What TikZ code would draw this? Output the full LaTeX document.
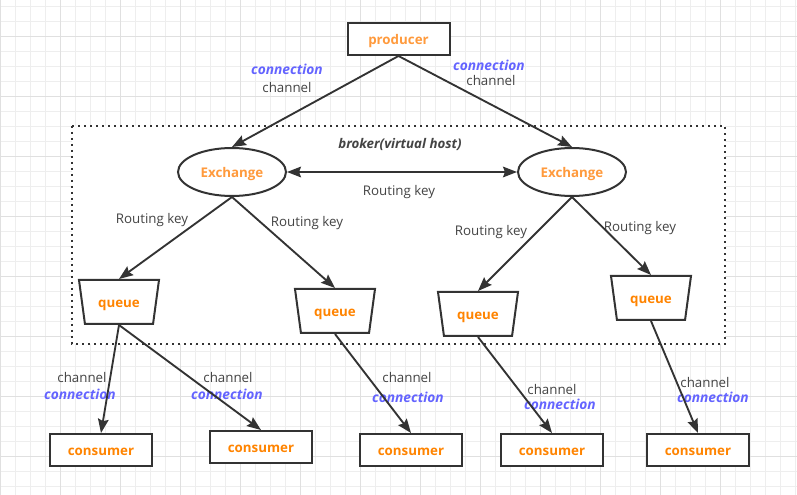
\documentclass[tikz,border=0pt]{standalone}
\usepackage{fontspec}
\setmainfont{Open Sans}
\usetikzlibrary{shapes.geometric,arrows.meta}
\definecolor{linegray}{HTML}{333333}
\definecolor{textgray}{HTML}{444444}
\definecolor{boxorange}{HTML}{FF9A3C}
\definecolor{deeporange}{HTML}{FF8400}
\definecolor{connblue}{HTML}{6464FF}
\definecolor{gridminor}{HTML}{EEEEEE}
\definecolor{gridmajor}{HTML}{E0E0E0}
\tikzset{
  plain/.style={font=\fontsize{10}{12}\selectfont, text=textgray, inner sep=1pt},
  connlabel/.style={font=\fontsize{10.3}{12}\selectfont\bfseries\itshape, text=connblue, inner sep=1pt},
  box/.style={rectangle, draw=linegray, line width=1.5pt, fill=white, minimum width=76.5pt, minimum height=24pt, text height=8.4pt, text depth=0pt, font=\fontsize{10}{12}\selectfont\bfseries, text=deeporange},
  exchange/.style={ellipse, draw=linegray, line width=1.5pt, fill=white, minimum width=81pt, minimum height=36pt, text height=8.4pt, text depth=0pt, font=\fontsize{10}{12}\selectfont\bfseries, text=boxorange},
  queuebox/.style={trapezium, trapezium left angle=73.5, trapezium right angle=73.5, trapezium stretches body, shape border rotate=180, draw=linegray, line width=1.5pt, fill=white, minimum width=60pt, minimum height=33pt, text height=8.4pt, text depth=0pt, font=\fontsize{10}{12}\selectfont\bfseries, text=deeporange},
  link/.style={draw=linegray, line width=1.4pt, -{Stealth[length=10.5pt,width=8pt,inset=1.5pt]}},
}
\begin{document}
\begin{tikzpicture}[x=0.75pt,y=-0.75pt]
\useasboundingbox (0,0) rectangle (797,495);
% background grid
\fill[white] (0,0) rectangle (797,495);
\foreach \gx in {0,...,53} \draw[gridminor, line width=0.75pt] (\gx*15+0.5,0) -- (\gx*15+0.5,495);
\foreach \gy in {0,...,32} \draw[gridminor, line width=0.75pt] (0,\gy*15+7) -- (797,\gy*15+7);
\foreach \gx in {0,...,12} \draw[gridmajor, line width=0.75pt] (\gx*60+0.5,0) -- (\gx*60+0.5,495);
\foreach \gy in {0,...,7} \draw[gridmajor, line width=0.75pt] (0,\gy*60+37) -- (797,\gy*60+37);
% broker area
\draw[fill=white, draw=linegray, line width=1.5pt, dash pattern=on 1.5pt off 3pt] (72,126) rectangle (725,344);
\node (broker) [plain, font=\fontsize{10}{12}\selectfont\bfseries\itshape] at (400,144) {broker(virtual host)};
% nodes
\node (prod) [box, text=boxorange] at (398.5,39) {producer};
\node (exL) [exchange] at (232,172) {Exchange};
\node (exR) [exchange] at (572,172) {Exchange};
\node (q1) [queuebox] at (119,302) {queue};
\node (q2) [queuebox] at (335,311) {queue};
\node (q3) [queuebox] at (478,314) {queue};
\node (q4) [queuebox] at (651,298) {queue};
\node (c1) [box] at (101,450) {consumer};
\node (c2) [box] at (261,447) {consumer};
\node (c3) [box] at (411,450) {consumer};
\node (c4) [box] at (552,450) {consumer};
\node (c5) [box] at (698,450) {consumer};
% labels
\node (conn1) [connlabel] at (287,69) {connection};
\node (chan1) [plain] at (287,88) {channel};
\node (conn2) [connlabel] at (489,65) {connection};
\node (chan2) [plain] at (491,81) {channel};
\node (rk0) [plain] at (399,192) {Routing key};
\node (rk1) [plain] at (152,220) {Routing key};
\node (rk2) [plain] at (307,223) {Routing key};
\node (rk3) [plain] at (491,232) {Routing key};
\node (rk4) [plain] at (640,228) {Routing key};
\node (chan3) [plain] at (82,378) {channel};
\node (conn3) [connlabel] at (80,394) {connection};
\node (chan4) [plain] at (228,378) {channel};
\node (conn4) [connlabel] at (227,394) {connection};
\node (chan5) [plain] at (407,378) {channel};
\node (conn5) [connlabel] at (408,397) {connection};
\node (chan6) [plain] at (552,390) {channel};
\node (conn6) [connlabel] at (560,404) {connection};
\node (chan7) [plain] at (705,383) {channel};
\node (conn7) [connlabel] at (713,397) {connection};
% Arrows
\draw[link] (prod.south) -- (exL.north);
\draw[link] (prod.south) -- (exR.north);
\draw[link, {Stealth[length=10.5pt,width=8pt,inset=1.5pt]}-{Stealth[length=10.5pt,width=8pt,inset=1.5pt]}] (exL) -- (exR);
\draw[link] (exL.south) -- (q1.north);
\draw[link] (exL.south) -- (q2.north);
\draw[link] (exR.south) -- (q3.north);
\draw[link] (exR.south) -- (q4.north);
\draw[link] (q1.south) -- (c1.north);
\draw[link] (q1.south) -- (c2.north);
\draw[link] (q2.south) -- (c3.north);
\draw[link] (q3.south) -- (c4.north);
\draw[link] (q4.south) -- (c5.north);
\end{tikzpicture}
\end{document}
